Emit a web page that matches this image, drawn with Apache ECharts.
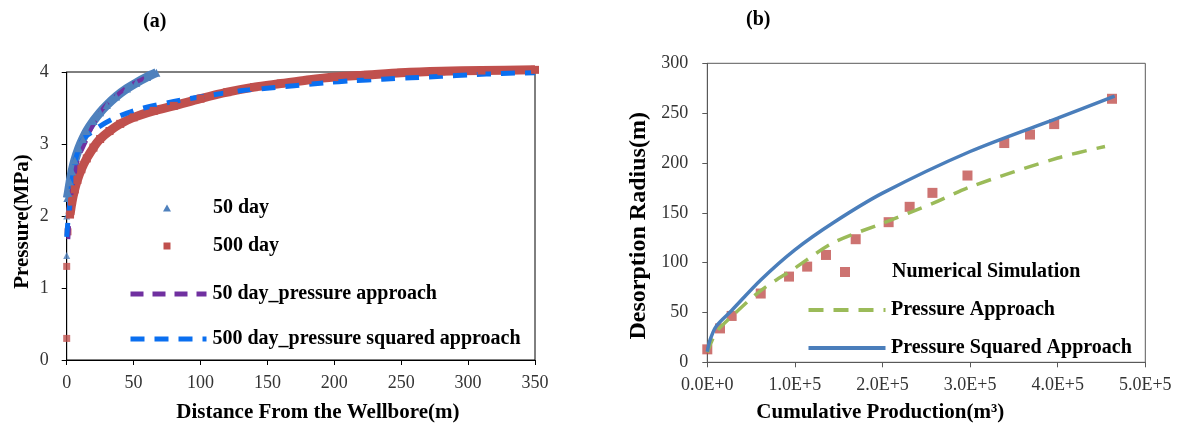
<!DOCTYPE html>
<html>
<head>
<meta charset="utf-8">
<title>Pressure profiles and desorption radius</title>
<script src="https://cdn.jsdelivr.net/npm/echarts@6/dist/echarts.min.js"></script>
<style>
  html, body { margin: 0; padding: 0; background: #fff; }
  #chart { width: 1184px; height: 436px; }
</style>
</head>
<body>
<div id="chart"></div>
<script>
// ---------- (a) pressure vs distance from the wellbore ----------
// 50 day simulated points (single markers near the wellbore + dense band)
const day50LoneDist = [0, 0];
const day50LonePres = [1.45, 2.0];
const day50Dist = [0.5, 1.2, 2.5, 4, 6, 9, 12, 15, 20, 25, 30, 37, 45, 52, 60, 67];
const day50Pres = [2.25, 2.32, 2.47, 2.62, 2.77, 2.94, 3.07, 3.18, 3.32, 3.44, 3.54, 3.66, 3.77, 3.85, 3.93, 3.99];

// 500 day simulated points
const day500LoneDist = [0, 0, 1];
const day500LonePres = [0.3, 1.3, 1.78];
const day500Dist = [2.5, 4, 6, 8, 11, 15, 20, 25, 32, 40, 50, 65, 80, 100, 120, 140, 160, 180, 200, 225, 250, 280, 310, 350];
const day500Pres = [2.02, 2.2, 2.37, 2.5, 2.65, 2.8, 2.95, 3.07, 3.18, 3.28, 3.37, 3.46, 3.53, 3.63, 3.72, 3.79, 3.84, 3.89, 3.93, 3.96, 3.99, 4.01, 4.02, 4.03];

// analytical curves
const approach50Dist = [1.2, 2.5, 4, 6.2, 9, 13.7, 18, 22.5, 27, 32.5, 39, 46, 53, 62];
const approach50Pres = [1.68, 2.08, 2.37, 2.6, 2.82, 3.01, 3.2, 3.36, 3.49, 3.6, 3.7, 3.8, 3.87, 3.95];
const squared500Dist = [0, 1.2, 2.5, 3.7, 6.2, 8.7, 11, 14, 17.5, 22.5, 32.5, 45, 57.5, 80, 105, 130, 147.5, 170, 192.5, 214, 236, 257.5, 280, 302.5, 325, 350];
const squared500Pres = [1.71, 1.99, 2.2, 2.45, 2.75, 2.92, 3.03, 3.1, 3.15, 3.22, 3.33, 3.43, 3.5, 3.59, 3.67, 3.74, 3.77, 3.81, 3.85, 3.88, 3.9, 3.92, 3.94, 3.96, 3.98, 3.99];

// ---------- (b) desorption radius vs cumulative production ----------
const simProd = [0, 14500, 27800, 61000, 93300, 114000, 135500, 169400, 207000, 231000, 257000, 297000, 339000, 368400, 396000, 462000];
const simRadius = [13, 34, 46.5, 69, 86, 96, 107.7, 123.5, 140.6, 156, 170, 187.4, 220, 228.5, 239, 264.4];
const pApproachProd = [0, 10000, 27800, 61000, 100000, 143800, 200000, 258000, 300000, 400000, 454000];
const pApproachRadius = [10, 30, 46, 72, 94.5, 120, 139.5, 159.6, 176, 205, 216.5];
const p2ApproachProd = [0, 3000, 10000, 27800, 61000, 100000, 143800, 200000, 300000, 400000, 465000];
const p2ApproachRadius = [10.6, 22, 36, 52, 82.6, 112.8, 140, 169.7, 211.5, 245, 267];

const prodTickLabels = ['0.0E+0', '1.0E+5', '2.0E+5', '3.0E+5', '4.0E+5', '5.0E+5'];

const FONT = 'Liberation Serif';

function pairs(xs, ys) {
    return xs.map(function(x, i) { return [x, ys[i]]; });
}

// one legend per row so each row sits where the original has it
// iconMid: centre x of the icon, textLeft: where the label starts
function legendRow(name, iconMid, midY, textLeft, opts) {
    const item = { name: name };
    if (opts.icon) item.icon = opts.icon;
    const left = iconMid - opts.w / 2;
    // line icons come out a few px wider than the box, pull the label back
    const extra = opts.lineWidth ? 3 : 0;
    const legend = {
        data: [item],
        left: left,
        top: midY - 9,   // row height follows the 20px label
        padding: 0,
        itemWidth: opts.w,
        itemHeight: opts.h,
        itemGap: 0,
        selectedMode: false,
        textStyle: {
            fontFamily: FONT, fontWeight: 'bold', fontSize: 20, color: '#000',
            padding: [0, 0, 0, Math.max(0, textLeft - (left + opts.w + 5) - extra)]
        }
    };
    if (opts.lineWidth) {
        // dashed/solid line only, hide the dot echarts puts in the middle
        legend.lineStyle = { width: opts.lineWidth };
        legend.itemStyle = { opacity: 0 };
    }
    return legend;
}

function axisText(color) {
    return { fontFamily: FONT, fontSize: 18, color: color };
}

const chart = echarts.init(document.getElementById('chart'));

chart.setOption({
    animation: false,
    title: [
        { text: '(a)', left: 143, top: 12, padding: 0, textStyle: { fontFamily: FONT, fontWeight: 'bold', fontSize: 20, color: '#000' } },
        { text: '(b)', left: 746, top: 10, padding: 0, textStyle: { fontFamily: FONT, fontWeight: 'bold', fontSize: 20, color: '#000' } }
    ],
    legend: [
        legendRow('50 day', 167, 207, 213, { icon: 'triangle', w: 8, h: 7 }),
        legendRow('500 day', 167, 245, 213, { icon: 'rect', w: 7, h: 7 }),
        legendRow('50 day_pressure approach', 166, 293, 213, { w: 76, h: 5, lineWidth: 5 }),
        legendRow('500 day_pressure squared approach', 166, 338, 213, { w: 76, h: 5, lineWidth: 5 }),
        legendRow('Numerical Simulation', 845, 271, 892, { icon: 'rect', w: 10, h: 10 }),
        legendRow('Pressure Approach', 845, 309, 892, { w: 77, h: 4, lineWidth: 4 }),
        legendRow('Pressure Squared Approach', 845, 347, 892, { w: 77, h: 4, lineWidth: 4 })
    ],
    grid: [
        { left: 66.7, top: 72, width: 468.3, height: 288, show: true, borderColor: '#000', borderWidth: 1 },
        { left: 707.3, top: 63.3, width: 438, height: 299, show: true, borderColor: '#595959', borderWidth: 1 }
    ],
    xAxis: [
        {
            gridIndex: 0, type: 'value', min: 0, max: 350, interval: 50,
            splitLine: { show: false },
            axisLine: { onZero: false, lineStyle: { color: '#000', width: 1 } },
            axisTick: { length: 5, lineStyle: { color: '#000' } },
            axisLabel: Object.assign({ margin: 14 }, axisText('#333')),
            name: 'Distance From the Wellbore(m)', nameLocation: 'middle', nameGap: 42,
            nameTextStyle: { fontFamily: FONT, fontWeight: 'bold', fontSize: 21, color: '#000', padding: [0, 0, 0, 34] }
        },
        {
            gridIndex: 1, type: 'value', min: 0, max: 500000, interval: 100000,
            splitLine: { show: false },
            axisLine: { onZero: false, lineStyle: { color: '#595959', width: 1 } },
            axisTick: { length: 5, lineStyle: { color: '#595959' } },
            axisLabel: Object.assign({
                margin: 14,
                formatter: function(v) { return prodTickLabels[Math.round(v / 100000)]; }
            }, axisText('#333')),
            name: 'Cumulative Production(m³)', nameLocation: 'middle', nameGap: 40,
            nameTextStyle: { fontFamily: FONT, fontWeight: 'bold', fontSize: 21, color: '#000', padding: [0, 92, 0, 0] }
        }
    ],
    yAxis: [
        {
            gridIndex: 0, type: 'value', min: 0, max: 4, interval: 1,
            splitLine: { show: false },
            axisLine: { show: true, onZero: false, lineStyle: { color: '#000', width: 1 } },
            axisTick: { show: true, length: 5, lineStyle: { color: '#000' } },
            axisLabel: Object.assign({ margin: 18 }, axisText('#333')),
            name: 'Pressure(MPa)', nameLocation: 'middle', nameGap: 34,
            nameTextStyle: { fontFamily: FONT, fontWeight: 'bold', fontSize: 21, color: '#000', padding: [0, 11, 0, 0] }
        },
        {
            gridIndex: 1, type: 'value', min: 0, max: 300, interval: 50,
            splitLine: { show: false },
            axisLine: { show: true, onZero: false, lineStyle: { color: '#595959', width: 1 } },
            axisTick: { show: true, length: 5, lineStyle: { color: '#595959' } },
            axisLabel: Object.assign({ margin: 19 }, axisText('#333')),
            name: 'Desorption Radius(m)', nameLocation: 'middle', nameGap: 57,
            nameTextStyle: { fontFamily: FONT, fontWeight: 'bold', fontSize: 24, color: '#000', padding: [0, 26, 0, 0] }
        }
    ],
    series: [
        // ----- (a) -----
        {
            name: '50 day', type: 'line', xAxisIndex: 0, yAxisIndex: 0,
            data: pairs(day50Dist, day50Pres), smooth: 0.3, clip: false,
            symbol: 'triangle', symbolSize: 8, showSymbol: true,
            itemStyle: { color: '#4f81bd' },
            lineStyle: { color: '#4f81bd', width: 9 }
        },
        {
            name: '50 day', type: 'scatter', xAxisIndex: 0, yAxisIndex: 0,
            data: pairs(day50LoneDist, day50LonePres), clip: false,
            symbol: 'triangle', symbolSize: 7,
            itemStyle: { color: '#4f81bd' }
        },
        {
            name: '500 day', type: 'line', xAxisIndex: 0, yAxisIndex: 0,
            data: pairs(day500Dist, day500Pres), smooth: 0.3, clip: false,
            symbol: 'rect', symbolSize: 8, showSymbol: true,
            itemStyle: { color: '#c0504d' },
            lineStyle: { color: '#c0504d', width: 9 }
        },
        {
            name: '500 day', type: 'scatter', xAxisIndex: 0, yAxisIndex: 0,
            data: pairs(day500LoneDist, day500LonePres), clip: false,
            symbol: 'rect', symbolSize: 7,
            itemStyle: { color: '#c0504d' }
        },
        {
            name: '50 day_pressure approach', type: 'line', xAxisIndex: 0, yAxisIndex: 0,
            data: pairs(approach50Dist, approach50Pres), smooth: 0.3,
            symbol: 'none', itemStyle: { color: '#7030a0' },
            lineStyle: { color: '#7030a0', width: 4, type: [13, 9] }
        },
        {
            name: '500 day_pressure squared approach', type: 'line', xAxisIndex: 0, yAxisIndex: 0,
            data: pairs(squared500Dist, squared500Pres), smooth: 0.3,
            symbol: 'none', itemStyle: { color: '#0a6ff0' },
            lineStyle: { color: '#0a6ff0', width: 5, type: [14, 10] }
        },
        // ----- (b) -----
        {
            name: 'Numerical Simulation', type: 'scatter', xAxisIndex: 1, yAxisIndex: 1,
            data: pairs(simProd, simRadius), clip: false,
            symbol: 'rect', symbolSize: 10,
            itemStyle: { color: '#c0504d' }
        },
        {
            name: 'Pressure Approach', type: 'line', xAxisIndex: 1, yAxisIndex: 1,
            data: pairs(pApproachProd, pApproachRadius), smooth: 0.3,
            symbol: 'none', itemStyle: { color: '#9bbb59' },
            lineStyle: { color: '#9bbb59', width: 3.5, type: [15, 10] }
        },
        {
            name: 'Pressure Squared Approach', type: 'line', xAxisIndex: 1, yAxisIndex: 1,
            data: pairs(p2ApproachProd, p2ApproachRadius), smooth: 0.3,
            symbol: 'none', itemStyle: { color: '#4a7ebb' },
            lineStyle: { color: '#4a7ebb', width: 3.5 }
        }
    ]
});

window.addEventListener('resize', function() { chart.resize(); });
</script>
</body>
</html>
